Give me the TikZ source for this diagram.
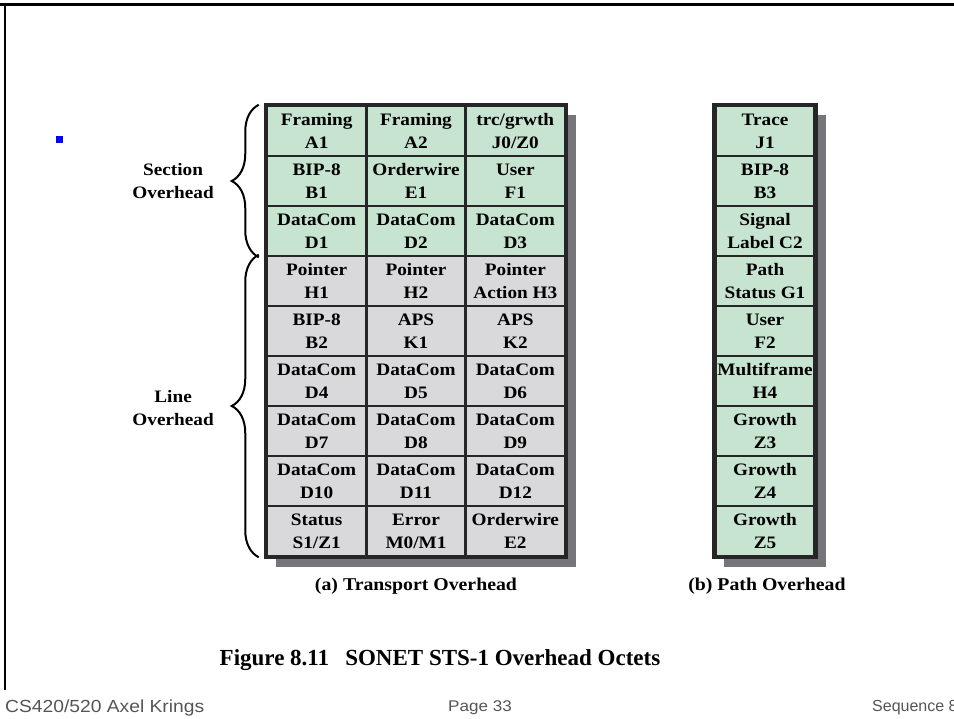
\documentclass[tikz,border=0pt]{standalone}
\usepackage{fontspec}
\setmainfont[FakeStretch=1.1]{Liberation Serif}
\newfontfamily\titlefont{Liberation Serif}
\newfontfamily\footfont[FakeStretch=1.1]{Liberation Sans}
\usetikzlibrary{decorations.pathreplacing,backgrounds}

\definecolor{secgreen}{RGB}{198,228,207}
\definecolor{linegray}{RGB}{217,217,219}
\definecolor{shadegray}{RGB}{118,118,122}
\definecolor{footgray}{RGB}{85,85,85}

\tikzset{
  octet/.style={draw=black!85, line width=2.5pt, minimum width=99.33pt,
    minimum height=50pt, inner sep=0pt, align=center,
    font=\fontsize{17.5}{23}\selectfont\bfseries},
  brace/.style={decorate, decoration={brace, amplitude=27pt}, line width=2pt},
  sidelabel/.style={inner sep=0pt, align=center,
    font=\fontsize{17.5}{23}\selectfont\bfseries},
  caption/.style={inner sep=0pt, font=\fontsize{18}{22}\selectfont\bfseries},
  footer/.style={inner sep=0pt, text=footgray, font=\footfont\fontsize{15.5}{17}\selectfont}
}

\begin{document}
\begin{tikzpicture}[x=1pt, y=-1pt]
  \useasboundingbox (0,0) rectangle (954,719);

  % 1. Slide frame and bullet
  \draw[line width=3pt] (0,5) -- (954,5);
  \draw[line width=2.5pt] (5,5) -- (5,690);
  \fill[blue] (55.5,136.5) rectangle (62.5,143.5);

  % 2. Transport overhead octets (3 columns)
  \foreach \fc/\a/\b/\c [count=\n] in {
    secgreen/{Framing\\A1}/{Framing\\A2}/{trc/grwth\\J0/Z0},
    secgreen/{BIP-8\\B1}/{Orderwire\\E1}/{User\\F1},
    secgreen/{DataCom\\D1}/{DataCom\\D2}/{DataCom\\D3},
    linegray/{Pointer\\H1}/{Pointer\\H2}/{Pointer\\Action H3},
    linegray/{BIP-8\\B2}/{APS\\K1}/{APS\\K2},
    linegray/{DataCom\\D4}/{DataCom\\D5}/{DataCom\\D6},
    linegray/{DataCom\\D7}/{DataCom\\D8}/{DataCom\\D9},
    linegray/{DataCom\\D10}/{DataCom\\D11}/{DataCom\\D12},
    linegray/{Status\\S1/Z1}/{Error\\M0/M1}/{Orderwire\\E2}}
  {
    \node[octet, fill=\fc] (t\n1) at (316.67, {81+50*\n}) {\a};
    \node[octet, fill=\fc] (t\n2) at (416, {81+50*\n}) {\b};
    \node[octet, fill=\fc] (t\n3) at (515.33, {81+50*\n}) {\c};
  }

  % 3. Path overhead octets (1 column)
  \foreach \txt [count=\n] in {{Trace\\J1}, {BIP-8\\B3}, {Signal\\Label C2},
    {Path\\Status G1}, {User\\F2}, {Multiframe\\H4}, {Growth\\Z3},
    {Growth\\Z4}, {Growth\\Z5}}
  {
    \node[octet, fill=secgreen] (p\n) at (765, {81+50*\n}) {\txt};
  }

  % 4. Outer borders and drop shadows
  \draw[line width=3.5pt, black!85] (t11.north west) rectangle (t93.south east);
  \draw[line width=3.5pt, black!85] (p1.north west) rectangle (p9.south east);
  \begin{scope}[on background layer]
    \fill[shadegray] ([shift={(10pt,-10pt)}]t11.north west)
      rectangle ([shift={(10pt,-10pt)}]t93.south east);
    \fill[shadegray] ([shift={(10pt,-10pt)}]p1.north west)
      rectangle ([shift={(10pt,-10pt)}]p9.south east);
  \end{scope}

  % 5. Braces with their labels
  \draw[brace] ([xshift=-7pt]t31.south west) -- node[sidelabel, left=44pt] (secl) {Section\\Overhead}
    ([xshift=-7pt]t11.north west);
  \draw[brace] ([xshift=-7pt]t91.south west) -- node[sidelabel, left=44pt, yshift=-2pt] (linel) {Line\\Overhead}
    ([xshift=-7pt]t41.north west);

  % 6. Captions
  \node[caption] (capa) at (416,586) {(a) Transport Overhead};
  \node[caption] (capb) at (767,586) {(b) Path Overhead};
  \node[inner sep=0pt, font=\titlefont\fontsize{23}{27}\selectfont\bfseries] (title) at (440,660)
    {Figure 8.11\hspace{0.7em}SONET STS-1 Overhead Octets};

  % 7. Footer
  \node[footer, anchor=west, font=\footfont\fontsize{17.5}{19}\selectfont] (foota) at (5,708) {CS420/520 Axel Krings};
  \node[footer] (footb) at (480,708) {Page 33};
  \node[footer, anchor=west, font=\fontspec{Liberation Sans}\fontsize{16}{18}\selectfont] (footc) at (872,708) {Sequence 8};
\end{tikzpicture}
\end{document}
